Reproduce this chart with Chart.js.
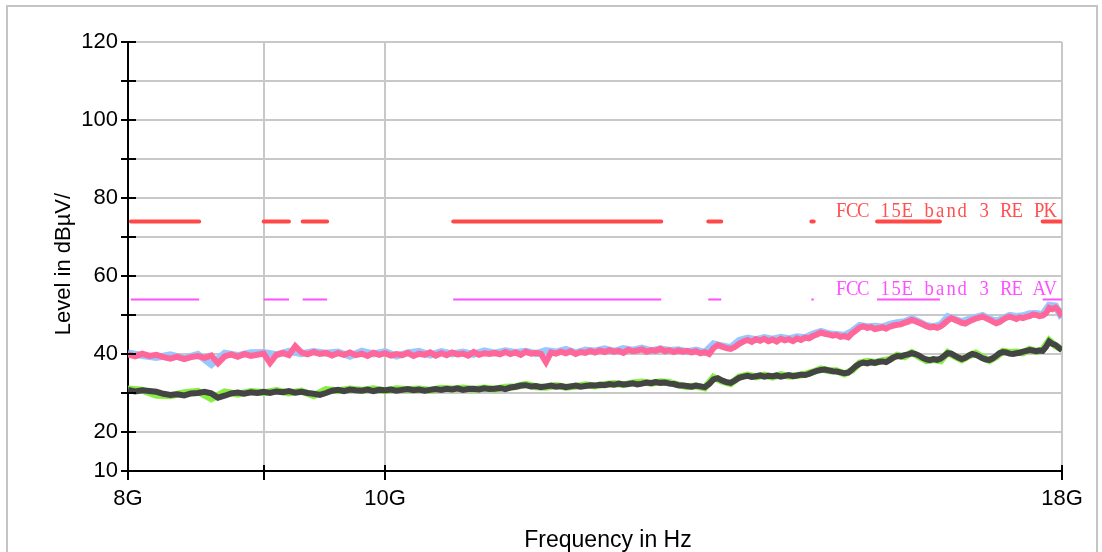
<!DOCTYPE html>
<html><head><meta charset="utf-8">
<script src="https://cdn.jsdelivr.net/npm/chart.js@4.4.1/dist/chart.umd.min.js"></script>
<style>html,body{margin:0;padding:0;background:#fff;}#wrap{width:1102px;height:552px;}canvas{display:block;}</style>
</head><body><div id="wrap"><canvas id="c" width="1102" height="552"></canvas></div>
<script>
// ---- sweep frequencies (GHz) ----
const FREQ_GHZ = [
8.00,8.05,8.10,8.15,8.20,8.25,8.30,8.35,8.40,8.45,
8.50,8.55,8.60,8.65,8.70,8.75,8.80,8.85,8.90,8.95,
9.00,9.05,9.10,9.15,9.20,9.25,9.30,9.35,9.40,9.45,
9.50,9.55,9.60,9.65,9.70,9.75,9.80,9.85,9.90,9.95,
10.00,10.05,10.10,10.15,10.20,10.25,10.30,10.35,10.40,10.45,
10.50,10.55,10.60,10.65,10.70,10.75,10.80,10.85,10.90,10.95,
11.00,11.05,11.10,11.15,11.20,11.25,11.30,11.35,11.40,11.45,
11.50,11.55,11.60,11.65,11.70,11.75,11.80,11.85,11.90,11.95,
12.00,12.05,12.10,12.15,12.20,12.25,12.30,12.35,12.40,12.45,
12.50,12.55,12.60,12.65,12.70,12.75,12.80,12.85,12.90,12.95,
13.00,13.05,13.10,13.15,13.20,13.25,13.30,13.35,13.40,13.45,
13.50,13.55,13.60,13.65,13.70,13.75,13.80,13.85,13.90,13.95,
14.00,14.05,14.10,14.15,14.20,14.25,14.30,14.35,14.40,14.45,
14.50,14.55,14.60,14.65,14.70,14.75,14.80,14.85,14.90,14.95,
15.00,15.05,15.10,15.15,15.20,15.25,15.30,15.35,15.40,15.45,
15.50,15.55,15.60,15.65,15.70,15.75,15.80,15.85,15.90,15.95,
16.00,16.05,16.10,16.15,16.20,16.25,16.30,16.35,16.40,16.45,
16.50,16.55,16.60,16.65,16.70,16.75,16.80,16.85,16.90,16.95,
17.00,17.05,17.10,17.15,17.20,17.25,17.30,17.35,17.40,17.45,
17.50,17.55,17.60,17.65,17.70,17.75,17.80,17.85,17.90,17.95,
18.00];

// ---- peak trace (pink), dBµV ----
const PEAK_TRACE = [
39.9,39.4,40.1,39.5,39.8,39.2,38.8,39.3,38.7,39.2,
39.5,39.0,39.6,37.6,39.4,39.9,39.3,40.0,39.5,39.8,
40.1,37.7,39.8,40.3,39.7,42.0,40.4,39.9,40.5,40.0,
40.3,39.6,40.2,39.8,40.4,39.7,40.1,39.5,40.3,39.8,
40.2,39.6,40.0,39.7,40.3,39.5,40.1,39.8,40.4,39.6,
40.2,39.7,40.4,39.9,40.1,39.6,40.5,39.8,40.2,40.0,
40.3,39.9,40.5,40.0,40.4,39.8,40.6,40.1,40.3,40.0,
37.9,40.4,40.1,40.6,40.2,40.7,40.0,40.5,40.3,40.8,
40.4,40.9,40.5,41.0,40.6,40.8,40.3,41.1,40.7,40.9,
41.2,40.6,41.0,40.8,41.3,40.7,41.0,40.5,40.9,40.6,
40.8,40.4,40.7,40.2,40.5,40.0,41.5,42.3,41.9,41.5,
41.3,41.8,42.6,43.2,43.6,43.1,43.8,43.4,43.9,43.3,
43.7,43.2,43.9,43.5,43.8,43.3,44.0,43.6,44.2,44.0,
44.6,45.0,45.5,45.2,45.0,44.7,44.9,44.4,44.6,44.3,
45.3,46.0,46.8,47.1,46.7,46.9,46.4,46.6,46.9,46.5,
47.0,47.3,47.5,47.6,48.0,48.3,48.7,48.4,48.0,47.6,
47.2,46.8,47.0,46.7,47.1,47.8,48.6,49.2,48.8,48.4,
48.0,47.8,48.3,48.7,49.1,49.3,49.6,49.2,48.8,48.3,
47.9,48.2,48.8,49.3,49.6,49.3,49.0,49.4,49.2,49.5,
49.7,50.1,50.0,49.7,49.9,50.4,51.8,51.5,51.9,51.1,
49.6];

// ---- average trace (dark grey), dBµV ----
const AVG_TRACE = [
30.8,30.4,30.7,30.5,30.3,29.8,29.5,29.7,29.4,29.9,
30.0,30.3,29.9,28.8,29.3,29.9,30.1,29.8,30.2,30.0,
30.3,30.0,30.4,30.2,30.5,30.1,30.3,30.0,29.8,29.5,
30.0,30.6,30.8,30.5,30.9,30.7,30.6,30.9,30.5,30.8,
30.7,30.9,30.6,30.8,31.0,30.7,30.9,30.6,30.8,31.0,
30.8,31.1,30.9,31.2,30.8,31.0,31.1,30.9,31.2,31.0,
31.1,31.3,31.0,31.4,31.6,31.9,32.0,31.7,31.8,31.5,
31.7,31.9,31.6,31.8,31.5,31.7,31.9,31.6,31.8,32.0,
31.9,32.1,32.0,32.3,32.1,32.4,32.2,32.3,32.5,32.2,
32.4,32.7,32.5,32.8,32.6,32.7,32.4,32.3,32.0,31.9,
31.8,31.6,31.9,31.7,31.5,32.3,33.5,33.8,33.2,32.8,
32.6,33.2,33.9,34.2,34.4,34.1,34.3,34.5,34.2,34.4,
34.3,34.5,34.2,34.4,34.6,34.3,34.5,34.7,34.6,34.9,
35.3,35.7,35.9,36.0,35.8,35.6,35.5,35.3,35.1,35.2,
36.0,36.9,37.5,37.8,37.6,37.9,37.7,38.0,38.1,37.9,
38.5,39.1,39.5,39.4,39.7,39.9,40.2,40.0,39.6,39.0,
38.6,38.4,38.7,38.5,38.8,39.5,40.2,40.1,39.6,39.1,
38.7,39.0,39.6,40.0,39.8,39.4,38.9,38.6,38.5,38.9,
39.5,40.2,40.5,40.4,40.1,40.0,40.2,40.3,40.6,40.8,
41.0,40.9,40.7,40.9,40.8,41.8,43.2,42.6,42.3,41.6,
41.0];

// ---- second peak trace (light blue), every 0.1 GHz ----
const PEAK_TRACE_2 = [
40.3,39.6,39.1,39.8,38.9,39.9,37.3,40.2,39.6,40.3,
40.4,39.8,40.7,40.1,40.6,40.2,40.5,39.4,40.7,40.0,
40.6,39.5,40.3,40.7,39.7,40.6,40.0,40.5,39.9,40.8,
40.2,40.8,40.4,40.7,40.1,40.9,40.5,41.2,40.3,41.0,
40.8,41.3,40.7,41.4,41.0,41.5,40.8,41.3,40.9,41.1,
40.6,41.0,40.4,42.6,42.1,41.6,43.5,44.1,43.7,44.2,
43.8,44.3,43.9,44.4,44.2,45.1,45.8,45.2,45.0,44.8,
45.8,47.3,47.0,47.1,46.9,47.6,48.0,48.3,49.1,48.2,
47.3,47.0,47.5,49.6,48.9,48.3,48.9,49.4,49.9,49.0,
48.4,49.1,49.9,49.6,49.8,50.3,50.4,50.1,52.5,52.3,
49.2];

// ---- second average trace (green), every 0.1 GHz ----
const AVG_TRACE_2 = [
31.0,30.7,29.4,29.3,30.1,30.4,28.5,30.3,29.7,30.4,
30.1,30.6,30.0,30.5,29.3,30.9,30.6,31.0,30.7,31.1,
30.6,31.1,30.9,31.0,30.7,31.2,31.0,31.3,30.9,31.3,
31.0,31.5,31.6,32.2,31.6,31.5,31.9,31.5,31.7,32.1,
31.8,32.2,32.4,32.1,32.6,32.8,32.5,32.9,32.7,32.1,
31.6,31.8,31.3,34.0,33.0,32.4,34.1,34.6,34.1,34.6,
34.1,34.7,34.3,34.5,34.8,35.4,36.2,35.7,35.7,34.9,
35.8,37.7,38.1,37.8,38.3,38.6,39.7,39.3,40.4,39.3,
38.3,38.6,38.3,40.4,39.4,38.5,39.5,40.2,39.2,38.3,
39.3,40.7,40.4,40.5,40.3,41.2,40.6,41.1,43.5,42.1,
41.2];

// ---- limit lines ----
const PK_LIMIT = 74;
const AV_LIMIT = 54;
const LIMIT_SEG_START_GHZ = [8.02, 9.00, 9.31, 10.61, 13.24, 14.48, 15.33, 17.70];
const LIMIT_SEG_END_GHZ   = [8.51, 9.20, 9.51, 12.71, 13.39, 14.51, 16.19, 18.00];
const PK_LABEL = 'FCC 15E band 3 RE PK';
const AV_LABEL = 'FCC 15E band 3 RE AV';
const LABEL_START_GHZ = 14.79;

// ---- axes ----
const X_TICKS_GHZ = [8, 9, 10, 18];
const X_TICK_LABELS = ['8G', '', '10G', '18G'];
const Y_LABELED_TICKS = [10, 20, 40, 60, 80, 100, 120];
const X_TITLE = 'Frequency in Hz';
const Y_TITLE = 'Level in dBµV/';

const GHZ = 1e9;
const FREQ_COARSE_GHZ = FREQ_GHZ.filter((_, i) => i % 2 === 0);
const toXY = (fs, vs) => vs.map((v, i) => ({ x: fs[i] * GHZ, y: v }));
function limitData(level) {
  const out = [];
  LIMIT_SEG_START_GHZ.forEach((s, i) => {
    out.push({ x: s * GHZ, y: level });
    out.push({ x: LIMIT_SEG_END_GHZ[i] * GHZ, y: level });
    out.push({ x: LIMIT_SEG_END_GHZ[i] * GHZ + 1, y: null });
  });
  return out;
}

const FONT = 'Liberation Sans, Arial, sans-serif';

const framePlugin = {
  id: 'frame',
  beforeDraw(chart) {
    const c = chart.ctx;
    c.save();
    c.fillStyle = '#fff';
    c.fillRect(0, 0, chart.width, chart.height);
    c.strokeStyle = '#c4c4c4';
    c.lineWidth = 2;
    c.beginPath();
    c.moveTo(7, 560); c.lineTo(7, 6); c.lineTo(1097, 6); c.lineTo(1097, 560);
    c.stroke();
    c.restore();
  }
};

function drawSpaced(c, text, x0, baseline, adv, color) {
  c.save();
  c.fillStyle = color;
  c.font = '22px "Liberation Serif", serif';
  c.textAlign = 'center';
  c.textBaseline = 'alphabetic';
  for (let i = 0; i < text.length; i++) {
    const ch = text[i];
    if (ch === ' ') continue;
    c.save();
    c.translate(x0 + adv * (i + 0.5), baseline);
    c.scale(0.85, 1);
    c.fillText(ch, 0, 0);
    c.restore();
  }
  c.restore();
}

const overlayPlugin = {
  id: 'overlay',
  afterDraw(chart) {
    const c = chart.ctx;
    const xs = chart.scales.x, ys = chart.scales.y;
    const a = chart.chartArea;
    c.save();
    c.strokeStyle = '#000';
    c.lineWidth = 2;
    c.beginPath();
    ys.ticks.forEach(t => {
      const y = Math.round(ys.getPixelForValue(t.value));
      c.moveTo(a.left, y); c.lineTo(a.left + 8, y);
    });
    X_TICKS_GHZ.forEach(g => {
      const x = Math.round(xs.getPixelForValue(g * GHZ));
      c.moveTo(x, a.bottom); c.lineTo(x, a.bottom - 6);
    });
    c.stroke();
    const lx = xs.getPixelForValue(LABEL_START_GHZ * GHZ);
    drawSpaced(c, PK_LABEL, lx, ys.getPixelForValue(PK_LIMIT) - 4, 11.0, '#ff5050');
    drawSpaced(c, AV_LABEL, lx, ys.getPixelForValue(AV_LIMIT) - 4, 11.0, '#ff50ff');
    c.fillStyle = '#000';
    c.font = '23px ' + FONT;
    c.textAlign = 'center';
    c.textBaseline = 'alphabetic';
    c.fillText(X_TITLE, 608, 547);
    c.font = '22px ' + FONT;
    c.translate(70, 264);
    c.rotate(-Math.PI / 2);
    c.fillText(Y_TITLE, 0, 0);
    c.restore();
  }
};

new Chart(document.getElementById('c'), {
  type: 'line',
  data: {
    datasets: [
      { data: limitData(PK_LIMIT), borderColor: '#ff4848', borderWidth: 4, borderCapStyle: 'round', spanGaps: false },
      { data: limitData(AV_LIMIT), borderColor: '#ff50ff', borderWidth: 2, spanGaps: false },
      { data: toXY(FREQ_GHZ, PEAK_TRACE), borderColor: '#ff6699', borderWidth: 6, borderJoinStyle: 'miter' },
      { data: toXY(FREQ_COARSE_GHZ, PEAK_TRACE_2), borderColor: '#99c8ff', borderWidth: 7 },
      { data: toXY(FREQ_GHZ, AVG_TRACE), borderColor: '#444444', borderWidth: 6, borderJoinStyle: 'miter' },
      { data: toXY(FREQ_COARSE_GHZ, AVG_TRACE_2), borderColor: '#88ee44', borderWidth: 7 }
    ]
  },
  options: {
    responsive: false,
    animation: false,
    devicePixelRatio: 1,
    elements: { point: { radius: 0 }, line: { tension: 0, fill: false } },
    layout: { padding: { left: 0, right: 40, top: 42, bottom: 0 } },
    plugins: { legend: { display: false }, tooltip: { enabled: false } },
    scales: {
      x: {
        type: 'logarithmic',
        min: 8 * GHZ, max: 18 * GHZ,
        afterBuildTicks: s => { s.ticks = X_TICKS_GHZ.map(g => ({ value: g * GHZ })); },
        afterFit: s => { s.height = 81; },
        ticks: {
          autoSkip: false, maxRotation: 0, padding: 6, color: '#000',
          font: { family: FONT, size: 22 },
          callback: (v) => { const i = X_TICKS_GHZ.findIndex(g => Math.abs(g * GHZ - v) < 1e6); return i >= 0 ? X_TICK_LABELS[i] : ''; }
        },
        grid: { color: '#c8c8c8', lineWidth: 2, tickColor: '#000', tickLength: 9, tickWidth: 2 },
        border: { color: '#000', width: 2 }
      },
      y: {
        type: 'linear',
        min: 10, max: 120,
        afterFit: s => { s.width = 128; },
        ticks: {
          stepSize: 10, padding: 3, color: '#000',
          font: { family: FONT, size: 22 },
          callback: (v) => Y_LABELED_TICKS.includes(v) ? String(v) : ''
        },
        grid: { color: '#c8c8c8', lineWidth: 2, tickColor: '#000', tickLength: 7, tickWidth: 2 },
        border: { color: '#000', width: 2 }
      }
    }
  },
  plugins: [framePlugin, overlayPlugin]
});
</script>
</body></html>
